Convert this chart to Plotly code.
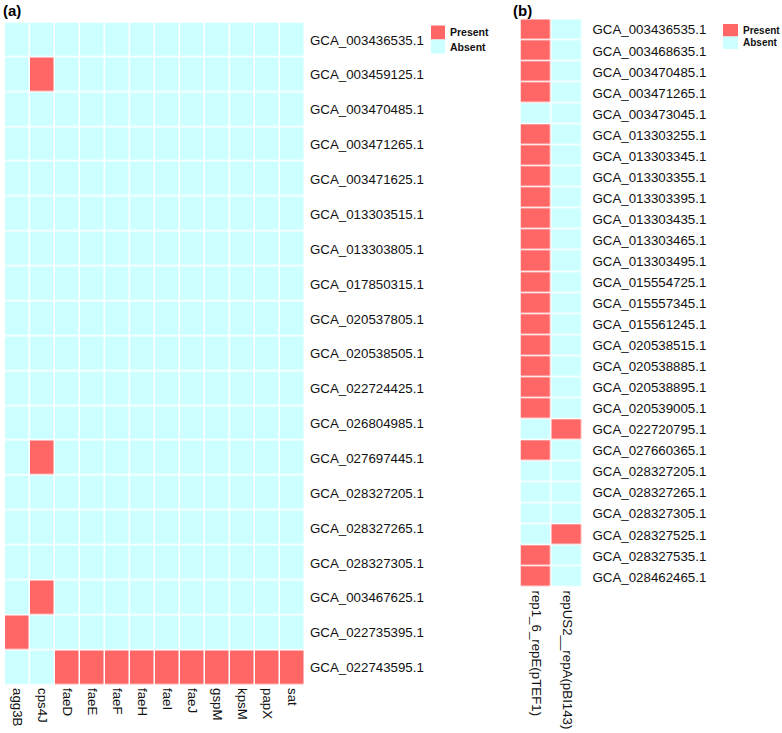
import plotly.graph_objects as go

# ---------------- data ----------------
genes_a = ['agg3B', 'cps4J', 'faeD', 'faeE', 'faeF', 'faeH', 'faeI', 'faeJ',
           'gspM', 'kpsM', 'papX', 'sat']
genomes_a = ['GCA_003436535.1', 'GCA_003459125.1', 'GCA_003470485.1', 'GCA_003471265.1',
             'GCA_003471625.1', 'GCA_013303515.1', 'GCA_013303805.1', 'GCA_017850315.1',
             'GCA_020537805.1', 'GCA_020538505.1', 'GCA_022724425.1', 'GCA_026804985.1',
             'GCA_027697445.1', 'GCA_028327205.1', 'GCA_028327265.1', 'GCA_028327305.1',
             'GCA_003467625.1', 'GCA_022735395.1', 'GCA_022743595.1']
presence_a = [
    [0, 0, 0, 0, 0, 0, 0, 0, 0, 0, 0, 0],
    [0, 1, 0, 0, 0, 0, 0, 0, 0, 0, 0, 0],
    [0, 0, 0, 0, 0, 0, 0, 0, 0, 0, 0, 0],
    [0, 0, 0, 0, 0, 0, 0, 0, 0, 0, 0, 0],
    [0, 0, 0, 0, 0, 0, 0, 0, 0, 0, 0, 0],
    [0, 0, 0, 0, 0, 0, 0, 0, 0, 0, 0, 0],
    [0, 0, 0, 0, 0, 0, 0, 0, 0, 0, 0, 0],
    [0, 0, 0, 0, 0, 0, 0, 0, 0, 0, 0, 0],
    [0, 0, 0, 0, 0, 0, 0, 0, 0, 0, 0, 0],
    [0, 0, 0, 0, 0, 0, 0, 0, 0, 0, 0, 0],
    [0, 0, 0, 0, 0, 0, 0, 0, 0, 0, 0, 0],
    [0, 0, 0, 0, 0, 0, 0, 0, 0, 0, 0, 0],
    [0, 1, 0, 0, 0, 0, 0, 0, 0, 0, 0, 0],
    [0, 0, 0, 0, 0, 0, 0, 0, 0, 0, 0, 0],
    [0, 0, 0, 0, 0, 0, 0, 0, 0, 0, 0, 0],
    [0, 0, 0, 0, 0, 0, 0, 0, 0, 0, 0, 0],
    [0, 1, 0, 0, 0, 0, 0, 0, 0, 0, 0, 0],
    [1, 0, 0, 0, 0, 0, 0, 0, 0, 0, 0, 0],
    [0, 0, 1, 1, 1, 1, 1, 1, 1, 1, 1, 1],
]

genes_b = ['rep1_6_repE(pTEF1)', 'repUS2__repA(pBI143)']
genomes_b = ['GCA_003436535.1', 'GCA_003468635.1', 'GCA_003470485.1', 'GCA_003471265.1',
             'GCA_003473045.1', 'GCA_013303255.1', 'GCA_013303345.1', 'GCA_013303355.1',
             'GCA_013303395.1', 'GCA_013303435.1', 'GCA_013303465.1', 'GCA_013303495.1',
             'GCA_015554725.1', 'GCA_015557345.1', 'GCA_015561245.1', 'GCA_020538515.1',
             'GCA_020538885.1', 'GCA_020538895.1', 'GCA_020539005.1', 'GCA_022720795.1',
             'GCA_027660365.1', 'GCA_028327205.1', 'GCA_028327265.1', 'GCA_028327305.1',
             'GCA_028327525.1', 'GCA_028327535.1', 'GCA_028462465.1']
rep1_col = [1, 1, 1, 1, 0, 1, 1, 1, 1, 1, 1, 1, 1, 1, 1, 1, 1, 1, 1, 0, 1, 0, 0, 0, 0, 1, 1]
repUS2_col = [0, 0, 0, 0, 0, 0, 0, 0, 0, 0, 0, 0, 0, 0, 0, 0, 0, 0, 0, 1, 0, 0, 0, 0, 1, 0, 0]

legend_labels = ['Present', 'Absent']

# ---------------- style ----------------
W, H = 782, 733
PRESENT = '#FF6666'
ABSENT = '#CCFFFF'
FONT = 'Liberation Sans, Arial, sans-serif'
cscale = [[0, ABSENT], [1, PRESENT]]


def px(x):
    return x / W


def py(y):
    return 1 - y / H


presence_b = [[a, b] for a, b in zip(rep1_col, repUS2_col)]

fig = go.Figure()
fig.add_trace(go.Heatmap(z=presence_a, x=genes_a, y=genomes_a, colorscale=cscale,
                         zmin=0, zmax=1, showscale=False, xgap=1.5, ygap=1.5,
                         xaxis='x', yaxis='y'))
fig.add_trace(go.Heatmap(z=presence_b, x=genes_b, y=genomes_b, colorscale=cscale,
                         zmin=0, zmax=1, showscale=False, xgap=1.5, ygap=1.5,
                         xaxis='x2', yaxis='y2'))

tickfont = dict(family=FONT, size=13.3, color='#111111')
fig.update_layout(
    width=W, height=H,
    margin=dict(l=0, r=0, t=0, b=0),
    paper_bgcolor='white', plot_bgcolor='white',
    xaxis=dict(domain=[px(5), px(305)], anchor='y', tickangle=90, tickfont=tickfont,
               showgrid=False, zeroline=False, ticks='', showline=False,
               ticklabelstandoff=2),
    yaxis=dict(domain=[py(685), py(22.5)], anchor='x', side='right', autorange='reversed',
               tickfont=tickfont, showgrid=False, zeroline=False, ticks='',
               ticklabelstandoff=4),
    xaxis2=dict(domain=[px(520.5), px(582.5)], anchor='y2', tickangle=90, tickfont=tickfont,
                showgrid=False, zeroline=False, ticks='', ticklabelstandoff=2),
    yaxis2=dict(domain=[py(587.5), py(19.3)], anchor='x2', side='right', autorange='reversed',
                tickfont=tickfont, showgrid=False, zeroline=False, ticks='',
                ticklabelstandoff=9),
)

# panel titles
fig.add_annotation(text='<b>(a)</b>', x=px(1), y=py(10), xref='paper', yref='paper',
                   xanchor='left', yanchor='middle', showarrow=False,
                   font=dict(family=FONT, size=15, color='black'))
fig.add_annotation(text='<b>(b)</b>', x=px(511), y=py(10), xref='paper', yref='paper',
                   xanchor='left', yanchor='middle', showarrow=False,
                   font=dict(family=FONT, size=15, color='black'))

# legends
legends = [
    dict(x0=431, x1=445, y0=25.5, h=14, tx=448, fs=10.5),
    dict(x0=723, x1=738, y0=24, h=12.5, tx=741, fs=10),
]
for lg in legends:
    for i, (lab, col) in enumerate(zip(legend_labels, [PRESENT, ABSENT])):
        y0 = lg['y0'] + i * lg['h']
        fig.add_shape(type='rect', xref='paper', yref='paper',
                      x0=px(lg['x0']), x1=px(lg['x1']), y0=py(y0), y1=py(y0 + lg['h']),
                      fillcolor=col, line=dict(width=0))
        fig.add_annotation(text='<b>' + lab + '</b>', x=px(lg['tx']), y=py(y0 + lg['h'] / 2),
                           xref='paper', yref='paper', xanchor='left', yanchor='middle',
                           showarrow=False, font=dict(family=FONT, size=lg['fs'], color='#111111'))

fig.write_html('out.html', config={'displayModeBar': False},
               post_script="document.body.style.margin='0';document.body.style.overflow='hidden';")
